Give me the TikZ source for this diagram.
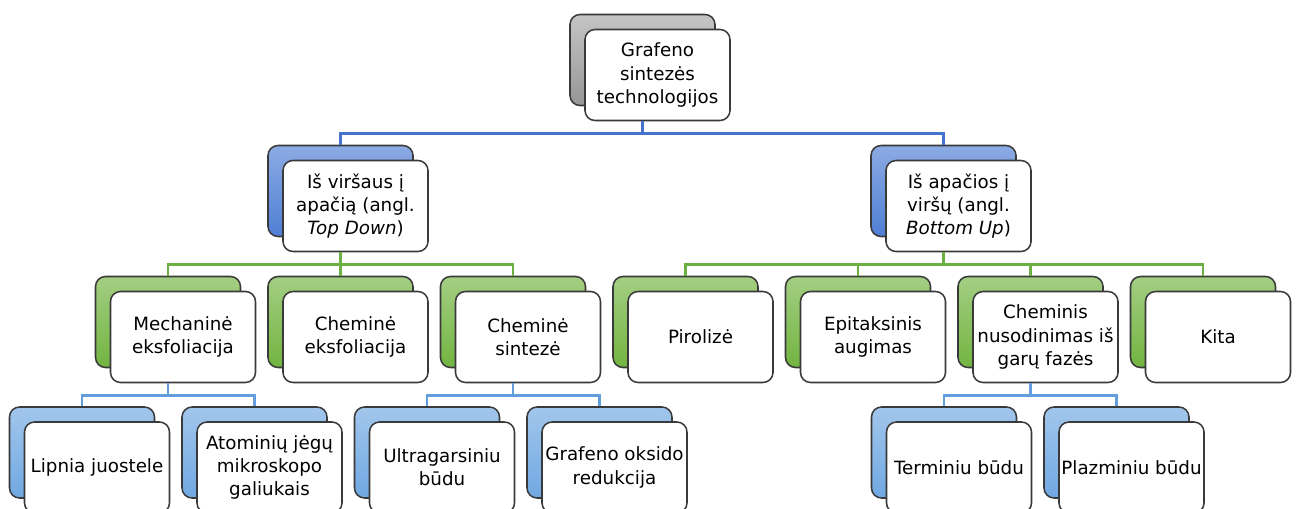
\documentclass[tikz,border=0pt]{standalone}
\usepackage{fontspec}
\setmainfont{DejaVu Sans}
\usepackage{xcolor}
\usepackage{tikz}
\usetikzlibrary{positioning}
\definecolor{rim}{RGB}{58,58,58}
\definecolor{greyback}{RGB}{150,150,150}
\definecolor{blueback}{RGB}{78,126,212}
\definecolor{greenback}{RGB}{114,180,64}
\definecolor{skyback}{RGB}{112,168,226}
\definecolor{bluelink}{RGB}{70,116,204}
\definecolor{greenlink}{RGB}{108,176,66}
\definecolor{skylink}{RGB}{98,158,222}
\tikzstyle{card} = [rectangle, rounded corners=2.5mm, minimum width=3.625cm, minimum height=2.275cm, inner sep=1pt, align=center, draw=rim, line width=1.1pt, fill=white, font=\fontsize{13}{16.5}\selectfont]
\tikzstyle{greycard} = [card, preaction={top color=greyback!55, bottom color=greyback, draw=rim, transform canvas={shift={(-3.75mm,3.75mm)}}}]
\tikzstyle{bluecard} = [card, preaction={top color=blueback!65, bottom color=blueback, draw=rim, transform canvas={shift={(-3.75mm,3.75mm)}}}]
\tikzstyle{greencard} = [card, preaction={top color=greenback!65, bottom color=greenback, draw=rim, transform canvas={shift={(-3.75mm,3.75mm)}}}]
\tikzstyle{skycard} = [card, preaction={top color=skyback!65, bottom color=skyback, draw=rim, transform canvas={shift={(-3.75mm,3.75mm)}}}]
\tikzstyle{link} = [line width=1.9pt]
\begin{document}
\begin{tikzpicture}[node distance=4.3125cm]

\useasboundingbox (0,0) rectangle (32.475,-12.7);
\clip (0,0) rectangle (32.475,-12.7);

\node (graf) [greycard] at (16.4375,-1.875) {Grafeno\\sintezės\\technologijos};

\node (tdown) [bluecard] at (8.8875,-5.15) {Iš viršaus į\\apačią (angl.\\\textit{Top Down})};
\node (bup) [bluecard] at (23.9625,-5.15) {Iš apačios į\\viršų (angl.\\\textit{Bottom Up})};

\node (mech) [greencard] at (4.575,-8.425) {Mechaninė\\eksfoliacija};
\node (chemeks) [greencard, right of=mech] {Cheminė\\eksfoliacija};
\node (chemsint) [greencard, right of=chemeks] {Cheminė\\sintezė};
\node (piro) [greencard, right of=chemsint] {Pirolizė};
\node (epit) [greencard, right of=piro] {Epitaksinis\\augimas};
\node (cvd) [greencard, right of=epit] {Cheminis\\nusodinimas iš\\garų fazės};
\node (kita) [greencard, right of=cvd] {Kita};

\node (lipn) [skycard] at (2.425,-11.6875) {Lipnia juostele};
\node (afm) [skycard, right of=lipn] {Atominių jėgų\\mikroskopo\\galiukais};
\node (ultra) [skycard] at (11.05,-11.6875) {Ultragarsiniu\\būdu};
\node (goxid) [skycard, right of=ultra] {Grafeno oksido\\redukcija};
\node (term) [skycard] at (23.975,-11.6875) {Terminiu būdu};
\node (plaz) [skycard, right of=term] {Plazminiu būdu};

\draw[link, bluelink] ([xshift=-3.75mm]graf.south) -- ++(0,-0.3) -| ([shift={(-3.75mm,3.75mm)}]tdown.north);
\draw[link, bluelink] ([xshift=-3.75mm]graf.south) -- ++(0,-0.3) -| ([shift={(-3.75mm,3.75mm)}]bup.north);

\draw[link, greenlink] ([xshift=-3.75mm]tdown.south) -- ++(0,-0.3) -| ([shift={(-3.75mm,3.75mm)}]mech.north);
\draw[link, greenlink] ([xshift=-3.75mm]tdown.south) -- ++(0,-0.3) -| ([shift={(-3.75mm,3.75mm)}]chemeks.north);
\draw[link, greenlink] ([xshift=-3.75mm]tdown.south) -- ++(0,-0.3) -| ([shift={(-3.75mm,3.75mm)}]chemsint.north);

\draw[link, greenlink] ([xshift=-3.75mm]bup.south) -- ++(0,-0.3) -| ([shift={(-3.75mm,3.75mm)}]piro.north);
\draw[link, greenlink] ([xshift=-3.75mm]bup.south) -- ++(0,-0.3) -| ([shift={(-3.75mm,3.75mm)}]epit.north);
\draw[link, greenlink] ([xshift=-3.75mm]bup.south) -- ++(0,-0.3) -| ([shift={(-3.75mm,3.75mm)}]cvd.north);
\draw[link, greenlink] ([xshift=-3.75mm]bup.south) -- ++(0,-0.3) -| ([shift={(-3.75mm,3.75mm)}]kita.north);

\draw[link, skylink] ([xshift=-3.75mm]mech.south) -- ++(0,-0.3) -| ([shift={(-3.75mm,3.75mm)}]lipn.north);
\draw[link, skylink] ([xshift=-3.75mm]mech.south) -- ++(0,-0.3) -| ([shift={(-3.75mm,3.75mm)}]afm.north);

\draw[link, skylink] ([xshift=-3.75mm]chemsint.south) -- ++(0,-0.3) -| ([shift={(-3.75mm,3.75mm)}]ultra.north);
\draw[link, skylink] ([xshift=-3.75mm]chemsint.south) -- ++(0,-0.3) -| ([shift={(-3.75mm,3.75mm)}]goxid.north);

\draw[link, skylink] ([xshift=-3.75mm]cvd.south) -- ++(0,-0.3) -| ([shift={(-3.75mm,3.75mm)}]term.north);
\draw[link, skylink] ([xshift=-3.75mm]cvd.south) -- ++(0,-0.3) -| ([shift={(-3.75mm,3.75mm)}]plaz.north);

\end{tikzpicture}
\end{document}
